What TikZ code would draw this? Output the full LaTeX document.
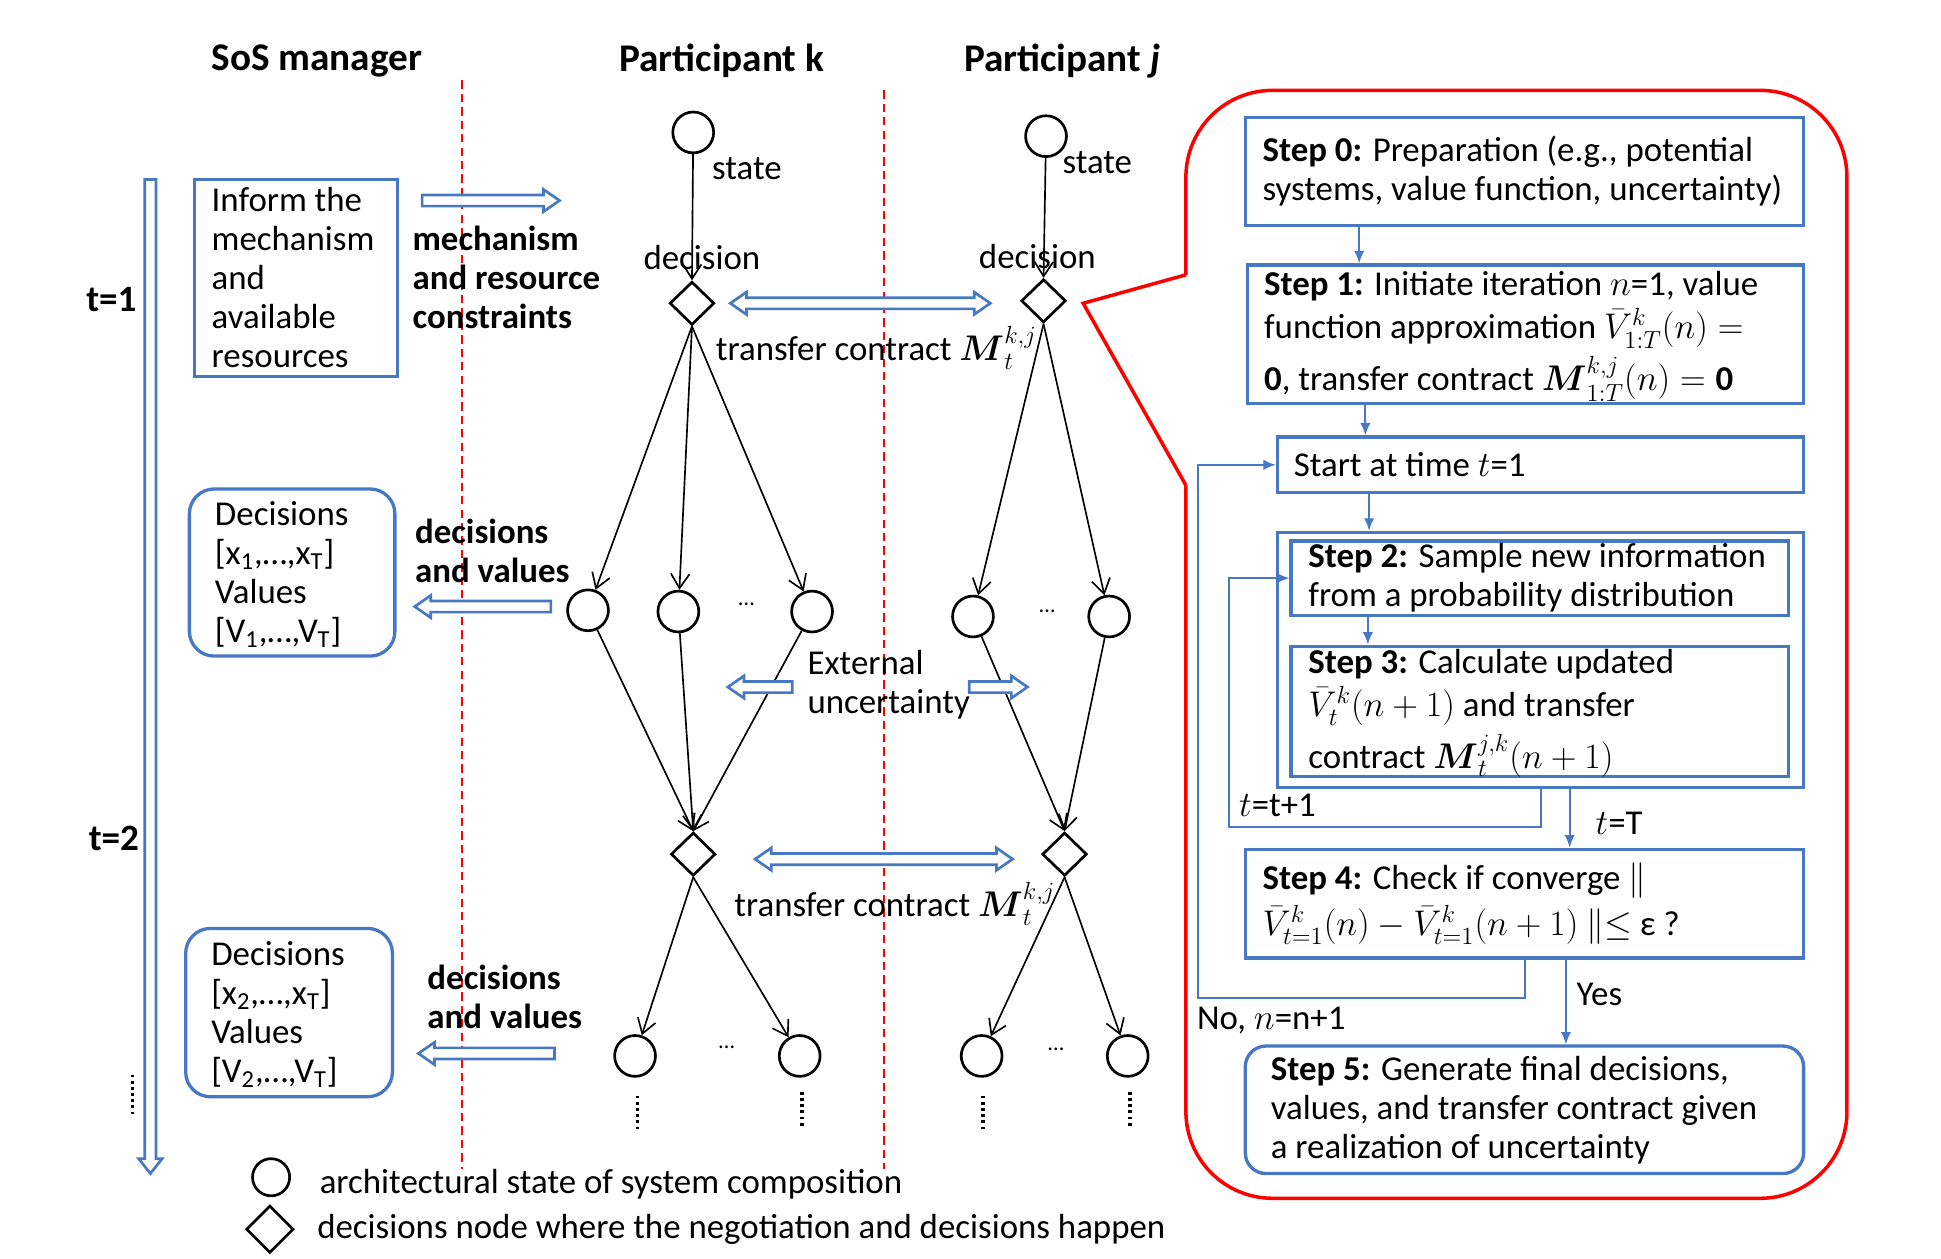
\documentclass[tikz,border=0pt]{standalone}
\usepackage{amsmath,amssymb}
\usepackage{fontspec}
\setmainfont{Carlito}
\usetikzlibrary{shapes.geometric,arrows.meta,fit,calc}
\definecolor{myblue}{RGB}{70,120,195}
\newcommand\myfs{\fontsize{16.9}{18.9}\selectfont}
\newcommand\mytitlefont{\fontsize{19}{22}\selectfont\bfseries}
\tikzset{
  txt/.style={font=\myfs, inner sep=0pt, align=left},
  btxt/.style={font=\myfs\bfseries, inner sep=0pt, align=left},
  ttl/.style={font=\mytitlefont, inner sep=0pt},
  bbox/.style={draw=myblue, line width=1.6pt, inner sep=0pt},
  circ/.style={circle, draw, line width=1.3pt, minimum size=19.8pt, inner sep=0pt},
  dia/.style={diamond, draw, line width=1.3pt, minimum width=21.6pt, minimum height=21pt, inner sep=0pt},
  arr/.style={-{Straight Barb[length=7pt,width=9pt]}, line width=0.8pt},
  farr/.style={draw=myblue, line width=0.9pt, -{Latex[length=6pt,width=5pt]}},
  hol/.style={draw=myblue, line width=1.3pt, fill=white, line join=miter},
  reddash/.style={draw=red, line width=1pt, dash pattern=on 4pt off 2.5pt},
  vdots/.style={line width=1.8pt, dash pattern=on 1.4pt off 1.6pt},
  smalldots/.style={font=\fontsize{11}{12}\selectfont, inner sep=0pt},
}
\begin{document}
\begin{tikzpicture}[x=0.6pt,y=-0.6pt]
\fill[white] (0,0) rectangle (1568,1017);
\useasboundingbox (0,0) rectangle (1568,1017);

% titles
\node[ttl] (tsos) at (256,49) {SoS manager};
\node[ttl] (tpk) at (583,49) {Participant k};
\node[ttl] (tpj) at (858,49) {Participant \textit{j}};

% dashed separators
\draw[reddash] (373,65) -- (373,944);
\draw[reddash] (714,73) -- (714,944);

% time axis
\draw[hol] (117,145) -- (126,145) -- (126,936) -- (131,936) -- (121.5,948) -- (112,936) -- (117,936) -- cycle;
\node[btxt, font=\fontsize{18}{20}\selectfont\bfseries] (t1) at (90,242) {t=1};
\node[btxt, font=\fontsize{18}{20}\selectfont\bfseries] (t2) at (92,677) {t=2};
\draw[vdots] (107,868) -- (107,900);

% SoS manager boxes
\node[bbox, fit={(157,145) (321,304)}] (inform) {};
\node[txt, anchor=west] (informt) at ([xshift=9pt]inform.west) {Inform the\\mechanism\\and\\available\\resources};
\node[bbox, rounded corners=12pt, fit={(153,395) (319,530)}] (dec1) {};
\node[txt, anchor=west] (dec1t) at ([xshift=13pt,yshift=-1pt]dec1.west) {Decisions\\{[}x\textsubscript{1},…,x\textsubscript{T}]\\Values\\{[}V\textsubscript{1},…,V\textsubscript{T}]};
\node[bbox, rounded corners=12pt, fit={(150,750) (317,886)}] (dec2) {};
\node[txt, anchor=west] (dec2t) at ([xshift=13pt,yshift=-1pt]dec2.west) {Decisions\\{[}x\textsubscript{2},…,x\textsubscript{T}]\\Values\\{[}V\textsubscript{2},…,V\textsubscript{T}]};

% hollow arrows to/from manager
\draw[hol] (341,157.5) -- (439,157.5) -- (439,153) -- (452,162) -- (439,171) -- (439,166.5) -- (341,166.5) -- cycle;
\node[btxt, anchor=west] (mech) at (333,224) {mechanism\\and resource\\constraints};
\draw[hol] (445,485.5) -- (348,485.5) -- (348,481) -- (335,490) -- (348,499) -- (348,494.5) -- (445,494.5) -- cycle;
\node[btxt, anchor=west] (dv1) at (335,445) {decisions\\and values};
\draw[hol] (448,846.5) -- (351,846.5) -- (351,842) -- (338,851) -- (351,860) -- (351,855.5) -- (448,855.5) -- cycle;
\node[btxt, anchor=west] (dv2) at (345,805) {decisions\\and values};

% participant nodes
\node[circ] (ck1) at (560,107) {};
\node[circ] (cj1) at (845,110) {};
\node[dia] (dk1) at (559,245) {};
\node[dia] (dj1) at (843,243) {};
\node[circ] (ck21) at (475,493) {};
\node[circ] (ck22) at (548,494) {};
\node[circ] (ck23) at (656,494) {};
\node[circ] (cj21) at (786,498) {};
\node[circ] (cj22) at (896,498) {};
\node[dia] (dk2) at (560,690) {};
\node[dia] (dj2) at (860,690) {};
\node[circ] (ck31) at (513,853) {};
\node[circ] (ck32) at (646,853) {};
\node[circ] (cj31) at (793,853) {};
\node[circ] (cj32) at (911,853) {};

\node[smalldots] (el1) at (603,488) {…};
\node[smalldots] (el2) at (846,494) {…};
\node[smalldots] (el3) at (587,846) {…};
\node[smalldots] (el4) at (853,848) {…};

\node[txt, anchor=west] (stk) at (575,136) {state};
\node[txt, anchor=west] (stj) at (858,131) {state};
\node[txt] (dck) at (567,208) {decision};
\node[txt] (dcj) at (838,207) {decision};

% edges
\draw[arr] (ck1) -- (dk1.north);
\draw[arr] (cj1) -- (dj1.north);
\draw[arr] (dk1.south) -- (ck21);
\draw[arr] (dk1.south) -- (ck22);
\draw[arr] (dk1.south) -- (ck23);
\draw[arr] (dj1.south) -- (cj21);
\draw[arr] (dj1.south) -- (cj22);
\draw[arr] (ck21) -- (dk2.north);
\draw[arr] (ck22) -- (dk2.north);
\draw[arr] (ck23) -- (dk2.north);
\draw[arr] (cj21) -- (dj2.north);
\draw[arr] (cj22) -- (dj2.north);
\draw[arr] (dk2.south) -- (ck31);
\draw[arr] (dk2.south) -- (ck32);
\draw[arr] (dj2.south) -- (cj31);
\draw[arr] (dj2.south) -- (cj32);

\draw[vdots] (515,885) -- (515,912);
\draw[vdots] (648,882) -- (648,910);
\draw[vdots] (794,885) -- (794,912);
\draw[vdots] (913,882) -- (913,910);

% transfer contracts
\draw[hol] (590,245) -- (603,236) -- (603,240.5) -- (787,240.5) -- (787,236) -- (800,245) -- (787,254) -- (787,249.5) -- (603,249.5) -- (603,254) -- cycle;
\node[txt, anchor=west] (tc1) at (578,281) {transfer contract $\boldsymbol{M}_t^{k,j}$};
\draw[hol] (610,694) -- (623,685) -- (623,689.5) -- (805,689.5) -- (805,685) -- (818,694) -- (805,703) -- (805,698.5) -- (623,698.5) -- (623,703) -- cycle;
\node[txt, anchor=west] (tc2) at (593,730) {transfer contract $\boldsymbol{M}_t^{k,j}$};

% external uncertainty
\draw[hol] (640,550.5) -- (601,550.5) -- (601,546) -- (588,555) -- (601,564) -- (601,559.5) -- (640,559.5) -- cycle;
\draw[hol] (783,550.5) -- (817,550.5) -- (817,546) -- (830,555) -- (817,564) -- (817,559.5) -- (783,559.5) -- cycle;
\node[txt, anchor=west] (ext) at (652,553) {External\\uncertainty};

% legend
\node[circ, minimum size=18pt] (lg1) at (219,951) {};
\node[txt, anchor=west] (lg1t) at (258,957) {architectural state of system composition};
\node[dia, minimum width=23pt, minimum height=23pt] (lg2) at (218,993) {};
\node[txt, anchor=west] (lg2t) at (256,993) {decisions node where the negotiation and decisions happen};

% red callout
\draw[red, line width=1.7pt, rounded corners=42pt] (958,222) -- (958,73) -- (1492,73) -- (1492,968) -- (958,968) -- (958,392);
\draw[red, line width=1.7pt, line join=miter] (958,392) -- (875,245) -- (958,222);

% flowchart
\node[bbox, fit={(1006,95) (1457,182)}] (s0) {};
\node[txt, anchor=west] (s0t) at ([xshift=9pt]s0.west) {\textbf{Step 0:} Preparation (e.g., potential\\systems, value function, uncertainty)};
\node[bbox, fit={(1008,214) (1457,326)}] (s1) {};
\node[txt, anchor=west] (s1t) at ([xshift=8.5pt,yshift=-1pt]s1.west) {\textbf{Step 1:} Initiate iteration $n$=1, value\\[2pt]function approximation $\bar{V}^{k}_{1:T}(n) =$\\[3pt]$\mathbf{0}$, transfer contract $\boldsymbol{M}^{k,j}_{1:T}(n) = \mathbf{0}$};
\node[bbox, fit={(1032,353) (1457,398)}] (st) {};
\node[txt, anchor=west] (stt) at ([xshift=8.5pt]st.west) {Start at time $t$=1};
\node[bbox, fit={(1032,430) (1457,636)}] (outer) {};
\node[bbox, fit={(1043,437) (1445,497)}] (s2) {};
\node[txt, anchor=west] (s2t) at ([xshift=9pt]s2.west) {\textbf{Step 2:} Sample new information\\from a probability distribution};
\node[bbox, fit={(1043,522) (1445,627)}] (s3) {};
\node[txt, anchor=west] (s3t) at ([xshift=9pt,yshift=-1pt]s3.west) {\textbf{Step 3:} Calculate updated\\[2pt]$\bar{V}^{k}_{t}(n+1)$ and transfer\\[3pt]contract $\boldsymbol{M}^{j,k}_{t}(n+1)$};
\node[bbox, fit={(1006,686) (1457,774)}] (s4) {};
\node[txt, anchor=west] (s4t) at ([xshift=9pt]s4.west) {\textbf{Step 4:} Check if converge $\|$\\[2pt]$\bar{V}^{k}_{t=1}(n)-\bar{V}^{k}_{t=1}(n+1)$ $\|{\le}$ ε ?};
\node[bbox, rounded corners=10pt, fit={(1006,845) (1457,948)}] (s5) {};
\node[txt, anchor=west] (s5t) at ([xshift=13pt]s5.west) {\textbf{Step 5:} Generate final decisions,\\values, and transfer contract given\\a realization of uncertainty};

\coordinate (xa) at (1098,0);
\coordinate (xb) at (1103,0);
\coordinate (xc) at (1106,0);
\coordinate (xd) at (1105,0);
\coordinate (xe) at (1245,0);
\coordinate (xf) at (1268,0);
\coordinate (xg) at (1232,0);
\coordinate (xh) at (1265,0);
\coordinate (cA) at (993,668);
\coordinate (cB) at (968,806);

\draw[farr] (s0.south -| xa) -- (s1.north -| xa);
\draw[farr] (s1.south -| xb) -- (st.north -| xb);
\draw[farr] (st.south -| xc) -- (outer.north -| xc);
\draw[farr] (s2.south -| xd) -- (s3.north -| xd);
\draw[farr] (outer.south -| xe) |- (cA) |- (s2.west);
\draw[farr] (outer.south -| xf) -- (s4.north -| xf);
\draw[farr] (s4.south -| xg) |- (cB) |- (st.west);
\draw[farr] (s4.south -| xh) -- (s5.north -| xh);

\node[txt] (ltt) at (1032,651) {$t$=t+1};
\node[txt] (ltT) at (1308,665) {$t$=T};
\node[txt] (lno) at (1027,824) {No, $n$=n+1};
\node[txt] (lyes) at (1292,803) {Yes};
\end{tikzpicture}
\end{document}
